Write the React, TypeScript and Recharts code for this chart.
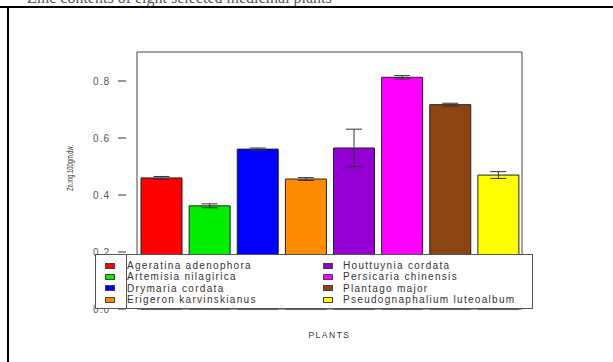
import React from "react";
import { BarChart, Bar, XAxis, YAxis, Cell, ErrorBar, Legend, ReferenceArea } from "recharts";

const plants = [
  "Ageratina adenophora",
  "Artemisia nilagirica",
  "Drymaria cordata",
  "Erigeron karvinskianus",
  "Houttuynia cordata",
  "Persicaria chinensis",
  "Plantago major",
  "Pseudognaphalium luteoalbum",
];
const zinc = [0.46, 0.362, 0.561, 0.456, 0.565, 0.813, 0.717, 0.47];
const zincErr = [0.005, 0.007, 0.004, 0.005, 0.066, 0.006, 0.005, 0.012];
const colors = ["#FF0000", "#00EE00", "#0000FF", "#FF8C00", "#9400D3", "#FF00FF", "#8B4513", "#FFFF00"];
const yTicks = [0, 0.2, 0.4, 0.6, 0.8];

const rows = plants.map((name, i) => ({ name, value: zinc[i], err: zincErr[i] }));

const textFont = "Arial, 'Liberation Sans', sans-serif";

function PlantLegend() {
  const left = plants.slice(0, 4);
  const right = plants.slice(4);
  const item = (name: string, idx: number) => (
    <div key={name} style={{ display: "flex", alignItems: "center", height: 11.3 }}>
      <span
        style={{
          width: 10,
          height: 6,
          background: colors[idx],
          border: "1px solid #444",
          boxSizing: "border-box",
          display: "inline-block",
        }}
      />
      <span style={{ marginLeft: idx < 4 ? 12 : 10, letterSpacing: 1.3 }}>{name}</span>
    </div>
  );
  return (
    <div
      style={{
        position: "relative",
        width: 438,
        height: 55,
        boxSizing: "border-box",
        border: "1px solid #555",
        background: "#fff",
        fontFamily: textFont,
        fontSize: 10,
        color: "#333",
        lineHeight: "11px",
      }}
    >
      <div style={{ position: "absolute", left: 30, top: -1, width: 1, height: 55, background: "#555" }} />
      <div style={{ position: "absolute", left: 9, top: 5 }}>{left.map((n, i) => item(n, i))}</div>
      <div style={{ position: "absolute", left: 227, top: 5 }}>{right.map((n, i) => item(n, i + 4))}</div>
    </div>
  );
}

export default function App() {
  return (
    <div style={{ position: "absolute", left: 0, top: 0, width: 613, height: 362, background: "#fff", overflow: "hidden" }}>
      <svg width={613} height={10} style={{ position: "absolute", left: 0, top: 0 }}>
        <text x={27} y={3} fontFamily="'Liberation Serif', 'Times New Roman', serif" fontSize={16} fill="#555">
          Zinc contents of eight selected medicinal plants
        </text>
      </svg>
      <div style={{ position: "absolute", left: 0, top: 6, width: 613, height: 2, background: "#000" }} />
      <div style={{ position: "absolute", left: 7, top: 6, width: 2, height: 356, background: "#000" }} />
      <div style={{ position: "absolute", left: 0, top: 0 }}>
        <BarChart
          width={613}
          height={362}
          data={rows}
          margin={{ top: 52, right: 80, bottom: 23, left: 86 }}
          barCategoryGap={0}
        >
          <XAxis
            dataKey="name"
            type="category"
            padding={{ left: 11, right: 11 }}
            height={30}
            tick={false}
            tickLine={false}
            axisLine={false}
            label={{
              value: "PLANTS",
              position: "insideBottom",
              offset: 1,
              style: { fontFamily: textFont, fontSize: 8.5, letterSpacing: 1.5, fill: "#333" },
            }}
          />
          <YAxis
            type="number"
            domain={[0, 0.9018]}
            ticks={yTicks}
            width={40}
            axisLine={false}
            tickSize={8}
            tickMargin={8}
            tickLine={{ stroke: "#333" }}
            tickFormatter={(v: number) => v.toFixed(1)}
            tick={{ fontFamily: textFont, fontSize: 10, letterSpacing: 1, fill: "#555" }}
            label={{
              content: () => (
                <text
                  x={73}
                  y={168}
                  transform="rotate(-90 73 168)"
                  textAnchor="middle"
                  fontFamily={textFont}
                  fontSize={9}
                  fill="#333"
                  textLength={46}
                  lengthAdjust="spacingAndGlyphs"
                >
                  Zn.mg.100gm.dw.
                </text>
              ),
            }}
          />
          <ReferenceArea y1={0} y2={0.9018} fill="none" stroke="#444" strokeWidth={1} ifOverflow="visible" />
          <Bar dataKey="value" barSize={41} stroke="#222" strokeWidth={1} isAnimationActive={false}>
            {rows.map((r, i) => (
              <Cell key={r.name} fill={colors[i]} />
            ))}
            <ErrorBar dataKey="err" width={8} stroke="#333" strokeWidth={1} direction="y" isAnimationActive={false} />
          </Bar>
          <Legend
            verticalAlign="middle"
            align="center"
            content={() => <PlantLegend />}
            wrapperStyle={{ left: 95, top: 254, width: 438, height: 55 }}
          />
        </BarChart>
      </div>
    </div>
  );
}
